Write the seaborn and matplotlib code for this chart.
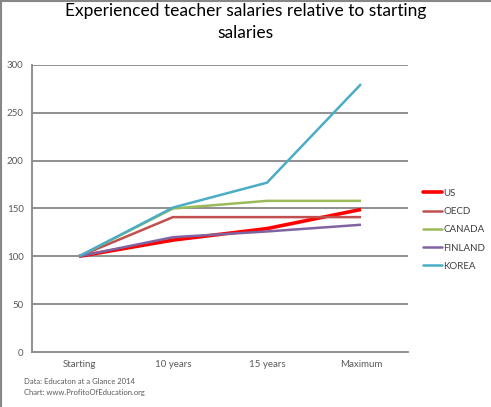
import pandas as pd
import matplotlib.pyplot as plt
import seaborn as sns
from matplotlib.lines import Line2D

# chart values
stages = ['Starting', '10 years', '15 years', 'Maximum']
us = [100, 117, 129, 149]
oecd = [100, 141, 141, 141]
canada = [100, 150, 158, 158]
finland = [100, 120, 126, 133]
korea = [100, 151, 177, 280]

countries = ['US', 'OECD', 'CANADA', 'FINLAND', 'KOREA']
colors = ['#FF0000', '#C0504D', '#9BBB59', '#8064A2', '#4BACC6']
widths = [2.6, 1.8, 1.8, 1.8, 1.8]

rows = []
for name, vals in zip(countries, [us, oecd, canada, finland, korea]):
    for st, v in zip(stages, vals):
        rows.append({'stage': st, 'value': v, 'country': name})
df = pd.DataFrame(rows)

sns.set_style('white')
plt.rcParams['font.family'] = ['Lato', 'DejaVu Sans']

fig = plt.figure(figsize=(4.91, 4.07), dpi=100)
ax = fig.add_axes([32 / 491, 1 - 352 / 407, 376 / 491, 287 / 407])

sns.lineplot(data=df, x='stage', y='value', hue='country', hue_order=countries,
             palette=colors, ax=ax, legend=False, sort=False)
for line, lw in zip(ax.get_lines(), widths):
    line.set_linewidth(lw)
    line.set_solid_capstyle('butt')

grid = '#878787'
ax.set_ylim(0, 300)
ax.set_xlim(-0.5, 3.5)
ax.set_yticks(range(0, 301, 50))
for yv in range(50, 301, 50):
    ax.axhline(yv, color=grid, lw=1.3, zorder=0)
ax.set_xlabel('')
ax.set_ylabel('')
for s in ['top', 'right']:
    ax.spines[s].set_visible(False)
for s in ['left', 'bottom']:
    ax.spines[s].set_color(grid)
    ax.spines[s].set_linewidth(1.3)
ax.set_xticks([0, 1, 2, 3])
ax.set_xticklabels(stages)
ax.set_xticks([-0.5, 0.5, 1.5, 2.5, 3.5], minor=True)
ax.tick_params(axis='x', which='major', length=0, pad=6, labelsize=7, labelcolor='#595959')
ax.tick_params(axis='x', which='minor', length=3, color=grid, width=1.2, direction='out')
ax.tick_params(axis='y', length=3, color=grid, width=1.2, direction='out', pad=3,
               labelsize=7, labelcolor='#595959')

fig.text(0.5, 1 - 22 / 407, 'Experienced teacher salaries relative to starting\nsalaries',
         ha='center', va='center', fontsize=12.5, color='#000000', linespacing=1.4)

handles = [Line2D([0], [0], color=c, lw=lw) for c, lw in zip(colors, widths)]
fig.legend(handles, countries, loc='upper left', bbox_to_anchor=(418 / 491, 1 - 184 / 407),
           frameon=False, fontsize=7, handlelength=2.0, handletextpad=0.1,
           labelspacing=0.95, borderpad=0, labelcolor='#404040')

fig.text(24 / 491, 1 - 382 / 407, 'Data: Educaton at a Glance 2014', fontsize=5.5,
         color='#595959', va='center')
fig.text(24 / 491, 1 - 392 / 407, 'Chart: www.ProfitoOfEducation.org', fontsize=5.5,
         color='#595959', va='center')

# outer chart border (left and top)
fig.add_artist(Line2D([0.5 / 491, 0.5 / 491], [0, 1], color='#878787', lw=1.5))
fig.add_artist(Line2D([0, 1], [1 - 0.5 / 407, 1 - 0.5 / 407], color='#878787', lw=1.5))

plt.savefig('out.png', dpi=100)
